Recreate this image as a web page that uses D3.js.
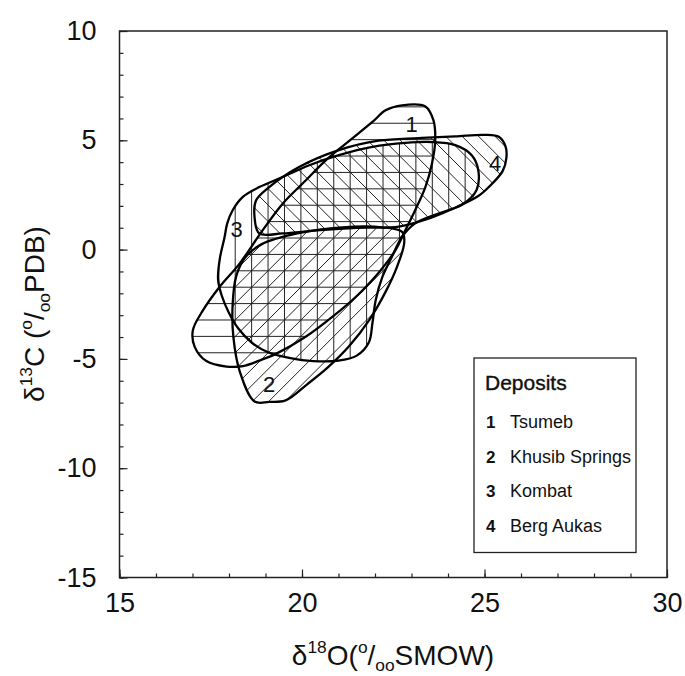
<!DOCTYPE html>
<html>
<head>
<meta charset="utf-8">
<script src="https://cdn.jsdelivr.net/npm/d3@7"></script>
<style>
  html, body { margin: 0; padding: 0; background: #fff; }
  svg { display: block; }
  text { font-family: "Liberation Sans", Arial, sans-serif; fill: #111; }
  .tick text { font-family: "Liberation Sans Narrow", "Liberation Sans", Arial, sans-serif; }
</style>
</head>
<body>
<div id="chart"></div>
<script>
// outlines of the isotope fields, [d18O, d13C]
var tsumeb = [[22.29,6.37],[22.74,6.6],[23.38,6.55],[23.6,5.92],[23.65,5.0],[23.56,3.93],[23.38,2.86],[23.1,1.8],
  [22.83,0.88],[22.56,-0.03],[22.3,-0.64],[22.0,-1.25],[21.47,-2.17],[20.83,-3.08],[20.1,-3.99],[19.3,-4.76],
  [18.83,-5.08],[18.38,-5.33],[17.93,-5.35],[17.38,-5.1],[17.06,-4.45],[17.01,-3.69],[17.29,-2.77],[17.74,-1.71],
  [18.29,-0.64],[18.92,0.88],[19.47,2.1],[20.1,3.16],[20.65,4.08],[21.2,4.85],[21.93,5.84]];
var khusib = [[18.9,0.25],[19.9,0.75],[21.1,1.02],[22.2,1.02],[22.75,0.8],[22.8,0.3],[22.6,-0.8],[22.3,-1.9],
  [21.85,-3.2],[21.3,-4.4],[20.7,-5.4],[20.15,-6.15],[19.55,-6.9],[19.1,-6.97],[18.7,-6.95],[18.3,-5.6],
  [18.12,-4.0],[18.1,-2.5],[18.2,-1.2],[18.45,-0.35]];
var kombat = [[17.88,0.58],[17.95,1.19],[18.1,1.8],[18.38,2.41],[18.83,2.86],[19.47,3.32],[20.2,3.86],[21.01,4.32],
  [21.93,4.7],[22.83,4.88],[23.56,4.92],[24.2,4.78],[24.65,4.32],[24.83,3.63],[24.78,2.72],[24.38,2.05],
  [23.74,1.65],[23.1,1.2],[22.74,0.58],[22.46,-0.34],[22.2,-1.26],[22.02,-2.31],[21.93,-3.36],[21.83,-4.25],
  [21.5,-4.85],[21.0,-5.08],[20.3,-5.1],[19.65,-4.95],[19.1,-4.72],[18.62,-4.25],[18.25,-3.6],[18.0,-2.9],
  [17.8,-2.1],[17.7,-1.35],[17.75,-0.4]];
var bergAukas = [[18.83,0.74],[18.7,1.49],[18.74,2.25],[19.1,2.86],[19.92,3.78],[21.01,4.55],[22.1,4.98],[23.2,5.1],
  [24.2,5.18],[25.0,5.25],[25.4,5.15],[25.58,4.7],[25.6,4.2],[25.5,3.6],[25.2,3.0],[24.83,2.45],[24.1,1.85],
  [23.4,1.38],[22.65,1.05],[21.5,1.0],[20.4,0.88],[19.47,0.74]];

var depositNames = ["Tsumeb", "Khusib Springs", "Kombat", "Berg Aukas"];
var depositLabelPos = [[23.0,5.75],[19.1,-6.15],[18.21,0.92],[25.29,3.98]];
var hatchKind = ["h", "f", "v", "b"];

var xTicks = [15, 20, 25, 30];
var yTicks = [-15, -10, -5, 0, 5, 10];

var W = 685, H = 676;
var svg = d3.select("#chart").append("svg").attr("width", W).attr("height", H);

var x = d3.scaleLinear().domain([15, 30]).range([119.5, 667]);
var y = d3.scaleLinear().domain([-15, 10]).range([577.5, 31]);

var fields = [tsumeb, khusib, kombat, bergAukas];
var line = d3.line()
	.x(d => x(d[0]))
	.y(d => y(d[1]))
	.curve(d3.curveCatmullRomClosed.alpha(0.5));

var defs = svg.append("defs");
fields.forEach(function (f, i) {
	defs.append("clipPath").attr("id", "clip" + i)
		.append("path").attr("d", line(f));
});

// hatching, same grid for all four fields
var stepY = y(0) - y(0.75);
var stepX = x(0.45) - x(0);
var gx = x(18.62), gy = y(-3.22);
function hatchLines(kind) {
	var segs = [];
	if (kind == "h") {
		d3.range(-40, 40).forEach(k => { var yy = gy + k * stepY; segs.push([[0, yy], [W, yy]]); });
	} else if (kind == "v") {
		d3.range(-40, 40).forEach(k => { var xx = gx + k * stepX; segs.push([[xx, 0], [xx, H]]); });
	} else if (kind == "f") {
		d3.range(-90, 90).forEach(k => { var c = gx + gy + k * stepX; segs.push([[c, 0], [c - H, H]]); });
	} else {
		d3.range(-90, 90).forEach(k => { var c = gx - gy + k * stepX; segs.push([[c, 0], [c + H, H]]); });
	}
	return segs;
}

fields.forEach(function (f, i) {
	svg.append("g")
		.attr("clip-path", "url(#clip" + i + ")")
		.selectAll("line")
		.data(hatchLines(hatchKind[i]))
		.enter().append("line")
		.attr("x1", d => d[0][0]).attr("y1", d => d[0][1])
		.attr("x2", d => d[1][0]).attr("y2", d => d[1][1])
		.attr("stroke", "#222")
		.attr("stroke-width", 1);
});

svg.append("g").selectAll("path")
	.data(fields)
	.enter().append("path")
	.attr("d", line)
	.attr("fill", "none")
	.attr("stroke", "#000")
	.attr("stroke-width", 2.3)
	.attr("stroke-linejoin", "round");

svg.append("g").selectAll("text")
	.data(depositLabelPos)
	.enter().append("text")
	.attr("x", d => x(d[0]))
	.attr("y", d => y(d[1]))
	.attr("text-anchor", "middle")
	.attr("dy", "0.36em")
	.style("font-size", "22px")
	.text((d, i) => i + 1);

// axes: minor ticks every unit, longer ones at labels, all pointing inward
var fmt = d => String(d);
var gX = svg.append("g").attr("transform", "translate(0," + y(-15) + ")");
gX.call(d3.axisBottom(x).tickValues(d3.range(15, 31)).tickSizeInner(-4).tickSizeOuter(0).tickFormat(""));
gX.append("g").call(d3.axisBottom(x).tickValues(xTicks).tickSizeInner(-8).tickSizeOuter(0).tickPadding(15).tickFormat(fmt));
var gY = svg.append("g").attr("transform", "translate(" + x(15) + ",0)");
gY.call(d3.axisLeft(y).tickValues(d3.range(-15, 11)).tickSizeInner(-4).tickSizeOuter(0).tickFormat(""));
gY.append("g").call(d3.axisLeft(y).tickValues(yTicks).tickSizeInner(-8).tickSizeOuter(0).tickPadding(23).tickFormat(fmt));
svg.selectAll(".domain").remove();
svg.selectAll(".tick line").attr("stroke", "#222").attr("stroke-width", 1.2);
svg.selectAll(".tick text").style("font-size", "27px").attr("fill", "#111");

svg.append("rect")
	.attr("x", x(15)).attr("y", y(10))
	.attr("width", x(30) - x(15)).attr("height", y(-15) - y(10))
	.attr("fill", "none").attr("stroke", "#222").attr("stroke-width", 1.5);

// axis titles with super/subscripts
function richText(g, parts, size) {
	var t = g.append("text").attr("text-anchor", "middle").style("font-size", size + "px");
	var cur = 0;
	parts.forEach(function (p) {
		var shift = p.s == "sup" ? -0.42 * size : (p.s == "sub" ? 0.2 * size : 0);
		t.append("tspan")
			.attr("dy", shift - cur)
			.style("font-size", p.s ? (0.62 * size) + "px" : size + "px")
			.text(p.t);
		cur = shift;
	});
	return t;
}

richText(svg.append("g").attr("transform", "translate(393,665)"), [
	{t: "δ"}, {t: "18", s: "sup"}, {t: "O("}, {t: "o", s: "sup"}, {t: "/"}, {t: "oo", s: "sub"}, {t: "SMOW)"}
], 28);
richText(svg.append("g").attr("transform", "translate(44,314) rotate(-90)"), [
	{t: "δ"}, {t: "13", s: "sup"}, {t: "C ("}, {t: "o", s: "sup"}, {t: "/"}, {t: "oo", s: "sub"}, {t: "PDB)"}
], 28);

// legend
var lg = svg.append("g");
lg.append("rect").attr("x", 474).attr("y", 358).attr("width", 162).attr("height", 194.5)
	.attr("fill", "#fff").attr("stroke", "#222").attr("stroke-width", 1.3);
lg.append("text").attr("x", 485).attr("y", 390).style("font-size", "21px")
	.attr("stroke", "#111").attr("stroke-width", 0.4).text("Deposits");
var items = lg.selectAll(".item").data(depositNames).enter().append("g")
	.attr("transform", (d, i) => "translate(0," + (428 + i * 34.6) + ")");
items.append("text").attr("x", 486).style("font-size", "17px").style("font-weight", "bold").text((d, i) => i + 1);
items.append("text").attr("x", 510).style("font-size", "18px").text(d => d);
</script>
</body>
</html>
